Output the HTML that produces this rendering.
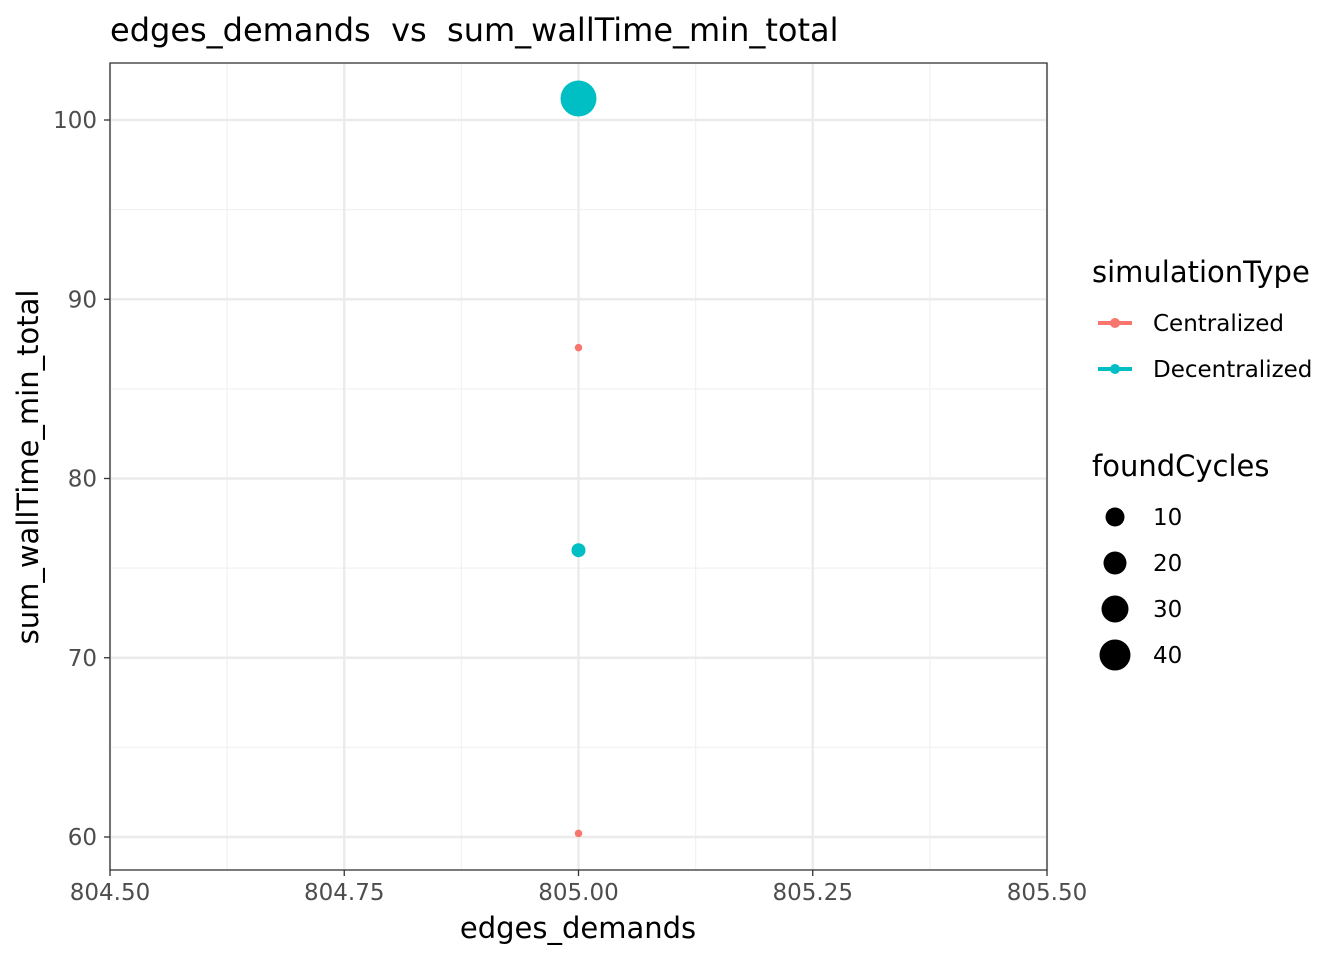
<!DOCTYPE html>
<html><head><meta charset="utf-8"><style>
body{margin:0;background:#fff;font-family:"Liberation Sans","DejaVu Sans",sans-serif}
</style></head><body>
<svg id="chart" width="1344" height="960" xmlns="http://www.w3.org/2000/svg" font-family="DejaVu Sans, Liberation Sans, sans-serif">
<rect width="1344" height="960" fill="#fff"/>
<text x="110" y="41" font-size="32" fill="#000" xml:space="preserve" style="white-space:pre">edges_demands  vs  sum_wallTime_min_total</text>
<g id="grid"></g>
<g id="points"></g>
<rect x="110" y="63" width="937" height="807" fill="none" stroke="#333" stroke-width="1.3"/>
<g id="axes"></g>
<text x="578" y="938" font-size="29" text-anchor="middle">edges_demands</text>
<text transform="translate(38,467) rotate(-90)" font-size="29" text-anchor="middle">sum_wallTime_min_total</text>
<g id="legend"></g>
</svg>
<script>
const xTicks=[804.5,804.75,805.0,805.25,805.5];
const xTickLabels=["804.50","804.75","805.00","805.25","805.50"];
const yTicks=[60,70,80,90,100];
const yTickLabels=["60","70","80","90","100"];
const ptX=[805,805,805,805];
const ptY=[101.2,87.3,76.0,60.2];
const ptType=["Decentralized","Centralized","Decentralized","Centralized"];
const ptCycles=[46,2,7,2];
const legendTypes=["Centralized","Decentralized"];
const legendSizes=[10,20,30,40];
const colors={Centralized:"#F8766D",Decentralized:"#00BFC4"};
const NS="http://www.w3.org/2000/svg";
function sx(v){return 110+(v-804.5)/(1.0)*937;}
function sy(v){return 120+(100-v)*17.925;}
function rs(v){return Math.sqrt(v)*2.65;}
function mk(tag,attrs,parent){const e=document.createElementNS(NS,tag);for(const k in attrs)e.setAttribute(k,attrs[k]);parent.appendChild(e);return e;}
const grid=document.getElementById('grid'),pts=document.getElementById('points'),axes=document.getElementById('axes'),leg=document.getElementById('legend');
for(let i=0;i<xTicks.length-1;i++){const m=(xTicks[i]+xTicks[i+1])/2;const l=mk('line',{x1:sx(m),x2:sx(m),y1:63,y2:870,stroke:'#f2f2f2','stroke-width':1.3},grid);

}
for(let i=0;i<yTicks.length;i++){const m=yTicks[i]+5;const y=sy(m);if(y<63)continue;const l=mk('line',{x1:110,x2:1047,y1:y,y2:y,stroke:'#f2f2f2','stroke-width':1.3},grid);

}
xTicks.forEach((t,i)=>{const x=sx(t);const l=mk('line',{x1:x,x2:x,y1:63,y2:870,stroke:'#ebebeb','stroke-width':2.4},grid);


const tk=mk('line',{x1:x,x2:x,y1:870,y2:876,stroke:'#333','stroke-width':1.3},axes);


const tx=mk('text',{x:x,y:900,'font-size':23,'text-anchor':'middle',fill:'#4d4d4d'},axes);tx.textContent=xTickLabels[i];

});
yTicks.forEach((t,i)=>{const y=sy(t);const l=mk('line',{x1:110,x2:1047,y1:y,y2:y,stroke:'#ebebeb','stroke-width':2.4},grid);


const tk=mk('line',{x1:104,x2:110,y1:y,y2:y,stroke:'#333','stroke-width':1.3},axes);


const tx=mk('text',{x:97,y:y+8,'font-size':23,'text-anchor':'end',fill:'#4d4d4d'},axes);tx.textContent=yTickLabels[i];

});
ptX.forEach((v,i)=>{const c=mk('circle',{cx:sx(v),cy:sy(ptY[i]),r:rs(ptCycles[i]),fill:colors[ptType[i]]},pts);

});
let t=mk('text',{x:1092,y:282,'font-size':29},leg);t.textContent='simulationType';


legendTypes.forEach((n,i)=>{const y=323+i*46;const g=mk('g',{},leg);


mk('line',{x1:1098,x2:1132,y1:y,y2:y,stroke:colors[n],'stroke-width':4},g);
mk('circle',{cx:1115,cy:y,r:5,fill:colors[n]},g);
const tx=mk('text',{x:1153,y:y+8,'font-size':23},g);tx.textContent=n;});
t=mk('text',{x:1092,y:476,'font-size':29},leg);t.textContent='foundCycles';


legendSizes.forEach((s,i)=>{const y=517+i*46;const g=mk('g',{},leg);


mk('circle',{cx:1115,cy:y,r:9.5+i*2,fill:'#000'},g);
const tx=mk('text',{x:1153,y:y+8,'font-size':23},g);tx.textContent=String(s);});
</script>
</body></html>
